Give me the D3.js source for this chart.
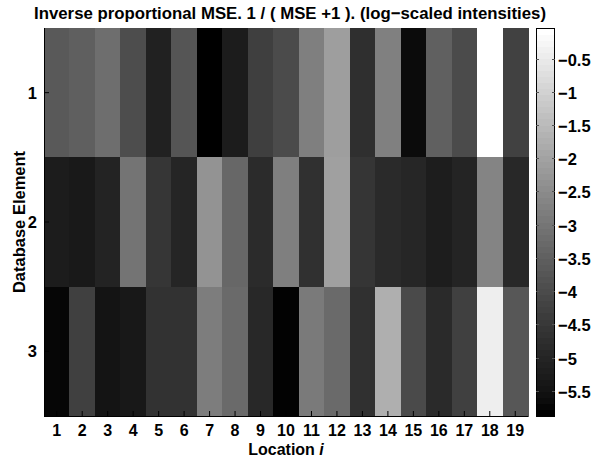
<!DOCTYPE html>
<html><head><meta charset="utf-8">
<script src="https://cdn.jsdelivr.net/npm/d3@7"></script>
<style>
html,body{margin:0;padding:0;background:#fff;}
text{font-family:"Liberation Sans",Arial,Helvetica,sans-serif;font-weight:bold;fill:#000;}
</style></head>
<body>
<svg id="chart" width="592" height="459"></svg>
<script>
const locations = [1,2,3,4,5,6,7,8,9,10,11,12,13,14,15,16,17,18,19];
const elements = [1,2,3];
const row1 = [-3.84,-3.70,-3.36,-4.12,-5.12,-3.93,-5.88,-5.24,-4.44,-4.16,-2.97,-2.26,-4.80,-2.95,-5.63,-3.68,-4.16,-0.04,-4.39];
const row2 = [-5.24,-5.31,-5.08,-3.22,-4.64,-5.03,-2.51,-3.52,-4.90,-2.97,-4.78,-2.22,-4.67,-4.92,-5.01,-5.22,-5.06,-2.86,-4.96];
const row3 = [-5.74,-4.41,-5.42,-5.33,-4.74,-4.74,-3.02,-3.45,-4.96,-5.83,-3.09,-3.45,-4.78,-1.87,-4.19,-4.92,-4.41,-0.43,-3.89];
const colorbarTicks = [-5.5,-5,-4.5,-4,-3.5,-3,-2.5,-2,-1.5,-1,-0.5];
const titleText = "Inverse proportional MSE. 1 / ( MSE +1 ). (log\u2212scaled intensities)";

const rows = [row1,row2,row3];
const cells = [];
rows.forEach((r,i)=>r.forEach((v,j)=>cells.push({row:elements[i],col:locations[j],v})));
const ext = d3.extent(cells,d=>d.v);

const svg = d3.select("#chart");
const L=44,R=528,T=28,B=416;
const FS=16.5;
const x = d3.scaleBand().domain(locations).range([L,R]).padding(0);
const y = d3.scaleBand().domain(elements).range([T,B]).padding(0);
const color = d3.scaleLinear().domain(ext).range(["#000","#fff"]);

svg.append("g").selectAll("rect").data(cells).join("rect")
  .attr("x",d=>x(d.col)).attr("y",d=>y(d.row))
  .attr("width",x.bandwidth()+0.5).attr("height",y.bandwidth()+0.5)
  .attr("fill",d=>color(d.v)).attr("shape-rendering","crispEdges");

// axes lines
svg.append("line").attr("x1",L+0.5).attr("x2",L+0.5).attr("y1",T).attr("y2",B).attr("stroke","#000");
svg.append("line").attr("x1",L).attr("x2",R).attr("y1",B+0.5).attr("y2",B+0.5).attr("stroke","#000");

// x ticks
const xg = svg.append("g");
locations.forEach(c=>{
  const cx = x(c)+x.bandwidth()/2;
  xg.append("line").attr("x1",cx).attr("x2",cx).attr("y1",B).attr("y2",B-5).attr("stroke","#000");
  xg.append("text").attr("x",cx).attr("y",435.5).attr("text-anchor","middle").attr("font-size",16).text(c);
});
const yg = svg.append("g");
elements.forEach(r=>{
  const cy = y(r)+y.bandwidth()/2;
  yg.append("line").attr("x1",L).attr("x2",L+5).attr("y1",cy).attr("y2",cy).attr("stroke","#000");
  yg.append("text").attr("x",37).attr("y",cy+6).attr("text-anchor","end").attr("font-size",FS).text(r);
});

// labels
const xl = svg.append("text").attr("x",286).attr("y",454.5).attr("text-anchor","middle").attr("font-size",16);
xl.append("tspan").text("Location ");
xl.append("tspan").attr("font-style","italic").text("i");
svg.append("text").attr("transform","translate(25,222) rotate(-90)").attr("text-anchor","middle").attr("font-size",FS).text("Database Element");
svg.append("text").attr("x",290).attr("y",19).attr("text-anchor","middle").attr("font-size",16.8).text(titleText);

// colorbar
const CL=536,CR=555;
const cy = d3.scaleLinear().domain(ext).range([B,T]);
const n=64;
const cb = svg.append("g");
d3.range(n).forEach(i=>{
  const v0 = ext[0]+(ext[1]-ext[0])*i/n, v1 = ext[0]+(ext[1]-ext[0])*(i+1)/n;
  cb.append("rect").attr("x",CL).attr("y",cy(v1)).attr("width",CR-CL).attr("height",cy(v0)-cy(v1)+0.5)
    .attr("fill",d3.gray(100*i/(n-1))+"").attr("shape-rendering","crispEdges");
});
cb.append("rect").attr("x",CL+0.5).attr("y",T+0.5).attr("width",CR-CL-1).attr("height",B-T-1)
  .attr("fill","none").attr("stroke","#000");
const fmt = d3.format("");
colorbarTicks.forEach(t=>{
  const ty = Math.round(cy(t))+0.5;
  cb.append("line").attr("x1",CL).attr("x2",CL+3).attr("y1",ty).attr("y2",ty).attr("stroke","#555");
  cb.append("line").attr("x1",CR-3).attr("x2",CR).attr("y1",ty).attr("y2",ty).attr("stroke","#555");
  cb.append("text").attr("x",558).attr("y",ty+6).attr("font-size",FS).text(fmt(t));
});
</script>
</body></html>
